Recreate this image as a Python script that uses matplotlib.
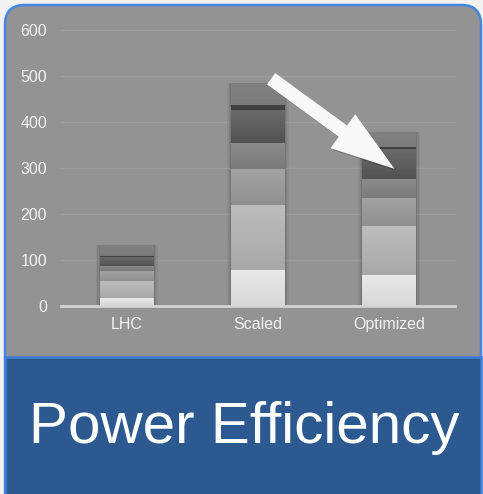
import numpy as np
import matplotlib
matplotlib.use("Agg")
import matplotlib.pyplot as plt
from matplotlib.patches import FancyBboxPatch, Rectangle, FancyArrow
from matplotlib.transforms import IdentityTransform

plt.rcParams['font.family'] = ['Liberation Sans', 'DejaVu Sans']

categories = ["LHC", "Scaled", "Optimized"]
# stacked power components, bottom to top
layer1 = [17, 78, 67]
layer2 = [38, 142, 107]
layer3 = [20, 78, 61]
layer4 = [12, 57, 41]
layer5 = [19, 71, 65]
layer6 = [3, 11, 5]
layer7 = [24, 47, 33]
layers = [layer1, layer2, layer3, layer4, layer5, layer6, layer7]
yticks = [0, 100, 200, 300, 400, 500, 600]

# (top colour, bottom colour) for each layer
shades = [("#e8e8e8", "#d8d8d8"),
          ("#bdbdbd", "#a8a8a8"),
          ("#a3a3a3", "#909090"),
          ("#8b8b8b", "#7a7a7a"),
          ("#6a6a6a", "#525252"),
          ("#474747", "#3e3e3e"),
          ("#8e8e8e", "#7a7a7a")]

W, H = 483, 494
fig = plt.figure(figsize=(W / 100, H / 100), dpi=100)
fig.patch.set_facecolor("#f2f2f2")

# card background
card = FancyBboxPatch((5 / W, -0.1), 476 / W, 1.1 - 5 / H,
                      boxstyle="round,pad=0,rounding_size=0.04",
                      transform=fig.transFigure, facecolor="#939393",
                      edgecolor="#4486e4", linewidth=1.8, zorder=-3)
fig.patches.append(card)
band = Rectangle((5 / W, -0.02), 476 / W, (494 - 357) / H + 0.02,
                 transform=fig.transFigure, facecolor="#2c5990",
                 edgecolor="#3f7fd8", linewidth=1.8, zorder=-2)
fig.patches.append(band)
fig.text(244 / W, 1 - 428 / H, "Power Efficiency", color="white",
         fontsize=42, ha="center", va="center", zorder=5)

ax = fig.add_axes([61 / W, 188 / H, 394 / W, 276 / H])
ax.set_zorder(2)
ax.set_facecolor("none")
for s in ax.spines.values():
    s.set_visible(False)

x = np.arange(len(categories))
bw = 0.41

# soft shadow round each stack
totals = np.sum(layers, axis=0)
for xi, t in zip(x, totals):
    for extra, a in [(0.06, 0.05), (0.035, 0.07), (0.015, 0.09)]:
        ax.add_patch(Rectangle((xi - (bw + extra) / 2, -4), bw + extra, t + 4,
                               facecolor="black", alpha=a, linewidth=0, zorder=1,
                               clip_on=False))

bottoms = np.zeros(len(categories))
for li, (vals, (c_top, c_bot)) in enumerate(zip(layers, shades)):
    top_rgb = np.array(matplotlib.colors.to_rgb(c_top))
    bot_rgb = np.array(matplotlib.colors.to_rgb(c_bot))
    ramp = np.linspace(0, 1, 64)[:, None]
    img = np.ones((64, 1, 4))
    img[:, 0, :3] = top_rgb * (1 - ramp) + bot_rgb * ramp
    if li == len(layers) - 1:
        img[:, 0, 3] = np.linspace(0.35, 1, 64)
    for xi, b, v in zip(x, bottoms, vals):
        ax.imshow(img, extent=(xi - bw / 2, xi + bw / 2, b, b + v),
                  aspect="auto", interpolation="bilinear", zorder=2)
    bottoms += vals

ax.set_xlim(-0.5, 2.5)
ax.set_ylim(0, 600)
ax.set_yticks(yticks)
ax.set_xticks(x)
ax.set_xticklabels(categories)
ax.tick_params(length=0, colors="#f2f2f2", labelsize=11.5)
ax.tick_params(axis="y", pad=10)
ax.tick_params(axis="x", pad=8)
for t in yticks[1:]:
    ax.axhline(t, color="#9e9e9e", linewidth=1, zorder=0.5, clip_on=False)
ax.axhline(0, color="#d4d4d4", linewidth=2, zorder=3, clip_on=False)

# arrow pointing down to the optimized bar
fig.canvas.draw()
tail = ax.transData.transform((1.1, 494))
tip = ax.transData.transform((2.04, 298))
d = tip - tail
for off, col, a in [((2, -2), "black", 0.18), ((0, 0), "#f8f8f8", 1.0)]:
    ax.add_patch(FancyArrow(tail[0] + off[0], tail[1] + off[1], d[0], d[1],
                            width=14, head_width=42, head_length=64,
                            length_includes_head=True, transform=IdentityTransform(),
                            facecolor=col, edgecolor="none", alpha=a, zorder=5,
                            clip_on=False))

fig.savefig("out.png", dpi=100, facecolor=fig.get_facecolor())
